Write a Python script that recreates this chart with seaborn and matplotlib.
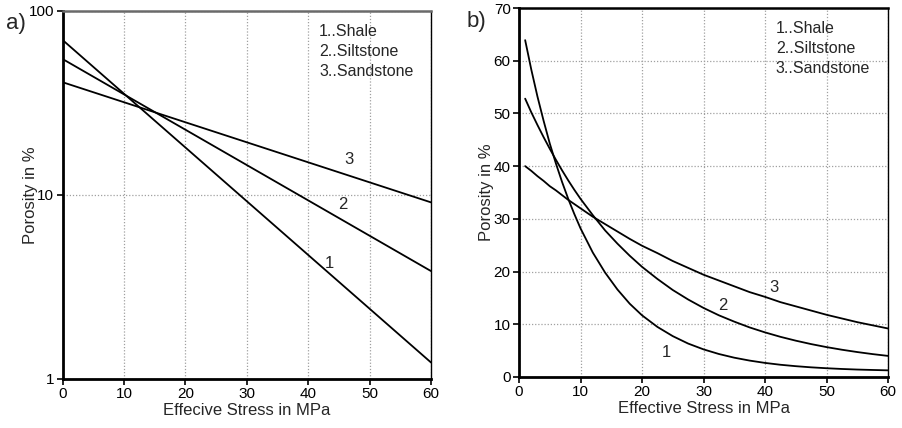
import matplotlib
matplotlib.use("Agg")
import matplotlib.pyplot as plt
import seaborn as sns
import pandas as pd
from matplotlib.ticker import FixedLocator, NullLocator

# ---- data ----
# panel a) : straight lines on a log axis
stress_a = [0, 60]
shale_a = [69.5, 1.23]
silt_a = [54.8, 3.86]
sand_a = [41.0, 9.12]

# panel b) : curves on a linear axis
stress_b = [1, 2, 3, 4, 5, 6, 7, 8, 9, 10, 12, 14, 16, 18, 20, 22.5, 25, 27.5,
            30, 32.5, 35, 37.5, 40, 42.5, 45, 47.5, 50, 52.5, 55, 57.5, 60]
shale_b = [63.9, 58.3, 53.2, 48.6, 44.3, 40.5, 37.0, 33.8, 30.9, 28.2, 23.6, 19.8,
           16.6, 13.9, 11.7, 9.5, 7.75, 6.34, 5.24, 4.36, 3.66, 3.11, 2.67, 2.32,
           2.05, 1.83, 1.66, 1.52, 1.41, 1.33, 1.26]
silt_b = [52.8, 50.2, 47.8, 45.5, 43.3, 41.2, 39.2, 37.3, 35.5, 33.8, 30.7, 27.8,
          25.3, 23.0, 20.9, 18.6, 16.5, 14.7, 13.1, 11.7, 10.5, 9.4, 8.46, 7.62,
          6.89, 6.24, 5.67, 5.17, 4.73, 4.34, 4.0]
sand_b = [40.0, 39.1, 38.1, 37.2, 36.2, 35.4, 34.5, 33.6, 32.8, 32.0, 30.4, 29.0,
          27.6, 26.2, 24.9, 23.5, 22.0, 20.7, 19.4, 18.3, 17.2, 16.1, 15.2, 14.2,
          13.4, 12.6, 11.8, 11.1, 10.4, 9.8, 9.2]

legend_lines = ["1..Shale", "2..Siltstone", "3..Sandstone"]
x_ticks = [0, 10, 20, 30, 40, 50, 60]
ya_ticks = [1, 10, 100]
ya_labels = ["1", "10", "100"]
yb_ticks = [0, 10, 20, 30, 40, 50, 60, 70]

# curve number labels (x, y)
labels_a = {"1": (43.5, 4.26), "2": (45.6, 8.83), "3": (46.7, 15.5)}
labels_b = {"1": (23.9, 4.6), "2": (33.2, 13.5), "3": (41.5, 17.0)}

sns.set_style("white")
plt.rcParams["font.family"] = ["Liberation Sans", "DejaVu Sans"]

fig = plt.figure(figsize=(9.02, 4.28), dpi=100)
axA = fig.add_axes([0.0695, 0.1145, 0.4083, 0.8598])
axB = fig.add_axes([0.5754, 0.1192, 0.4091, 0.8621])

def long_df(x, s1, s2, s3):
    return pd.DataFrame({
        "x": list(x) * 3,
        "y": list(s1) + list(s2) + list(s3),
        "rock": ["Shale"] * len(x) + ["Siltstone"] * len(x) + ["Sandstone"] * len(x),
    })

dfa = long_df(stress_a, shale_a, silt_a, sand_a)
dfb = long_df(stress_b, shale_b, silt_b, sand_b)

pal = {"Shale": "black", "Siltstone": "black", "Sandstone": "black"}

grid_kw = dict(color="#a0a0a0", linestyle=(0, (1, 1.5)), linewidth=0.9)

# ---------- panel a ----------
axA.set_yscale("log")
sns.lineplot(data=dfa, x="x", y="y", hue="rock", palette=pal, ax=axA,
             legend=False, linewidth=1.3, sort=False)
axA.set_xlim(0, 60)
axA.set_ylim(1, 100)
axA.xaxis.set_major_locator(FixedLocator(x_ticks))
axA.yaxis.set_major_locator(FixedLocator(ya_ticks))
axA.yaxis.set_minor_locator(NullLocator())
axA.set_yticklabels(ya_labels)
axA.grid(True, which="major", **grid_kw)
axA.set_axisbelow(True)
axA.set_xlabel("Effecive Stress in MPa", fontsize=12, labelpad=1)
axA.set_ylabel("Porosity in %", fontsize=12)
axA.yaxis.set_label_coords(-0.067, 0.5)
for k, (xx, yy) in labels_a.items():
    axA.text(xx, yy, k, fontsize=12, ha="center", va="center")

# ---------- panel b ----------
sns.lineplot(data=dfb, x="x", y="y", hue="rock", palette=pal, ax=axB,
             legend=False, linewidth=1.3, sort=False)
axB.set_xlim(0, 60)
axB.set_ylim(0, 70)
axB.xaxis.set_major_locator(FixedLocator(x_ticks))
axB.yaxis.set_major_locator(FixedLocator(yb_ticks))
axB.grid(True, which="major", **grid_kw)
axB.set_axisbelow(True)
axB.set_xlabel("Effective Stress in MPa", fontsize=12, labelpad=1)
axB.set_ylabel("Porosity in %", fontsize=12)
axB.yaxis.set_label_coords(-0.068, 0.5)
for k, (xx, yy) in labels_b.items():
    axB.text(xx, yy, k, fontsize=12, ha="center", va="center")

# ---------- common styling ----------
for ax, top_col in ((axA, "#6a6a6a"), (axB, "black")):
    ax.tick_params(axis="both", which="major", direction="out", length=4,
                   width=1.2, labelsize=11, pad=2, colors="black",
                   left=True, bottom=True)
    ax.spines["left"].set_linewidth(2.0)
    ax.spines["bottom"].set_linewidth(2.0)
    ax.spines["left"].set_color("black")
    ax.spines["bottom"].set_color("black")
    ax.spines["right"].set_linewidth(1.0)
    ax.spines["right"].set_color("black")
    ax.spines["top"].set_linewidth(1.8)
    ax.spines["top"].set_color(top_col)
    for i, t in enumerate(legend_lines):
        ax.text(0.696, 0.944 - i * 0.0545, t, transform=ax.transAxes,
                fontsize=11.5, ha="left", va="center")

fig.text(0.007, 0.946, "a)", fontsize=16, ha="left", va="center")
fig.text(0.517, 0.949, "b)", fontsize=16, ha="left", va="center")

fig.savefig("out.png", dpi=100)
